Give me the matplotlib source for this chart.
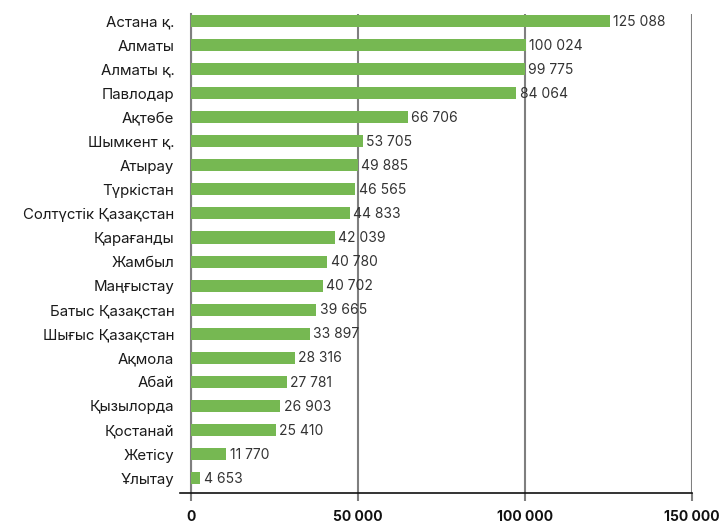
import matplotlib
matplotlib.use("Agg")
import matplotlib.pyplot as plt

plt.rcParams['font.family'] = ['Inter', 'DejaVu Sans']

# regions, top to bottom
regions = ["Астана қ.", "Алматы", "Алматы қ.", "Павлодар", "Ақтөбе", "Шымкент қ.",
           "Атырау", "Түркістан", "Солтүстік Қазақстан", "Қарағанды", "Жамбыл",
           "Маңғыстау", "Батыс Қазақстан", "Шығыс Қазақстан", "Ақмола", "Абай",
           "Қызылорда", "Қостанай", "Жетісу", "Ұлытау"]
# bar lengths as drawn in the picture
bar_values = [125400, 100200, 99900, 97400, 64900, 51400, 50000, 49200, 47600, 43100,
              40800, 39500, 37500, 35600, 31100, 28700, 26700, 25300, 10500, 2800]
# printed data labels
value_labels = ["125 088", "100 024", "99 775", "84 064", "66 706", "53 705", "49 885",
                "46 565", "44 833", "42 039", "40 780", "40 702", "39 665", "33 897",
                "28 316", "27 781", "26 903", "25 410", "11 770", "4 653"]
xticks = [0, 50000, 100000, 150000]
xtick_labels = ["0", "50 000", "100 000", "150 000"]

n = len(regions)
ypos = list(range(n - 1, -1, -1))

fig = plt.figure(figsize=(7.19, 5.23), dpi=100)
ax = fig.add_axes([191 / 719, 30 / 523, 501 / 719, 479 / 523])

ax.barh(ypos, bar_values, height=0.5, color='#76b852', zorder=3)
for y, v, lab in zip(ypos, bar_values, value_labels):
    ax.annotate(lab, (v, y), xytext=(2.5, -0.5), textcoords='offset points',
                ha='left', va='center', fontsize=10, color='#333333', zorder=4)

ax.set_xlim(0, 150000)
ax.set_ylim(-0.62, n - 1 + 0.29)
ax.set_yticks(ypos)
ax.set_yticklabels(regions, fontsize=10.8, color='#1a1a1a')
ax.set_xticks(xticks)
ax.set_xticklabels(xtick_labels, fontsize=10, fontweight='bold', color='#111111')

ax.grid(axis='x', color='#7f7f7f', linewidth=1.5, zorder=1)
ax.set_axisbelow(True)
ax.tick_params(axis='y', length=0, pad=12)
ax.tick_params(axis='x', length=6, width=1.5, color='#7f7f7f', pad=6)

for side in ['top', 'right', 'bottom']:
    ax.spines[side].set_visible(False)
ax.spines['left'].set_color('#7f7f7f')
ax.spines['left'].set_linewidth(1.5)

# baseline reaching a bit left of the value axis
ax.plot([-11 / 501, 1], [0, 0], transform=ax.transAxes, color='#111111',
        linewidth=1.2, clip_on=False, zorder=5)

fig.savefig("out.png", dpi=100)
